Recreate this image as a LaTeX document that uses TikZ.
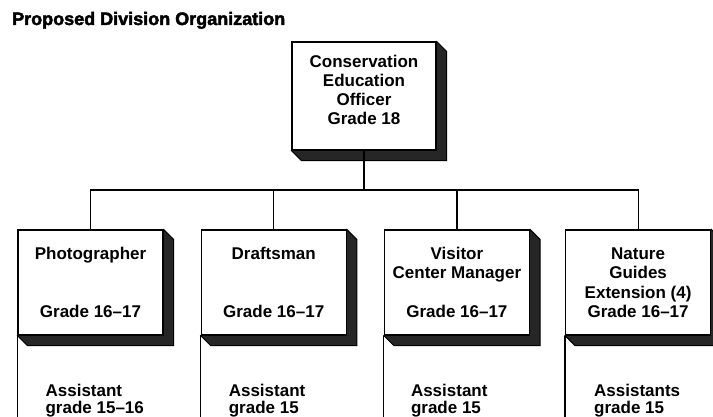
\documentclass[tikz,border=0pt]{standalone}
\usepackage{fontspec}
\setmainfont{Liberation Sans}
\newfontfamily\headfont{Liberation Sans Bold}[FakeBold=2.5]
\usetikzlibrary{positioning}
\usetikzlibrary{backgrounds}
\newcommand{\boxshade}[1]{%
  \filldraw[black!85, draw=black, line width=1pt] (#1.north east) -- ++(10pt,-10pt)
    |- ([shift={(10pt,-10pt)}]#1.south west) -- (#1.south west) -- cycle;}

\begin{document}
\begin{tikzpicture}[x=1pt, y=1pt, node distance=37pt,
  box/.style={draw, fill=white, line width=1.2pt, minimum width=145pt,
    minimum height=105pt, inner sep=0pt, align=center,
    font=\fontsize{17}{19.5}\selectfont\bfseries},
  assist/.style={inner sep=0pt, align=left,
    font=\fontsize{17}{17}\selectfont\bfseries},
  wire/.style={line width=1.2pt}]
  \useasboundingbox (0,0) rectangle (713,417);
  \node[anchor=base west, inner sep=0pt, font=\headfont\fontsize{18}{20}\selectfont]
    (heading) at (12,392) {Proposed Division Organization};
  % officer and the four sections
  \node[box, minimum width=144pt, minimum height=108pt] (ceo) at (364,321) {};
  \node[align=center, font=\fontsize{17}{19}\selectfont\bfseries] (ceotext)
    at ([yshift=6pt]ceo.center) {Conservation\\Education\\Officer\\Grade 18};
  \node[box] (photo) at (90.5,134.5) {Photographer\\[39pt]Grade 16--17};
  \node[box, right=of photo] (draft) {Draftsman\\[39pt]Grade 16--17};
  \node[box, right=of draft] (visitor) {Visitor\\Center Manager\\[19.5pt]Grade 16--17};
  \node[box, right=35pt of visitor] (nature) {Nature\\Guides\\Extension (4)\\Grade 16--17};
  \begin{scope}[on background layer]
    \foreach \b in {ceo,photo,draft,visitor,nature} {\boxshade{\b}}
  \end{scope}
  % connectors
  \coordinate (bus) at (0,227);
  \coordinate (floor) at (0,0);
  \draw[wire] (ceo.south) -- (ceo.south |- bus);
  \draw[wire] (photo.north) |- (bus -| nature.north) -- (nature.north);
  \draw[wire] (draft.north) -- (draft.north |- bus);
  \draw[wire] (visitor.north) -- (visitor.north |- bus);
  \foreach \b in {photo,draft,visitor,nature}
    \draw[wire] (\b.south west) -- (\b.south west |- floor);
  % assistants
  \node[assist, below right=48pt and 28pt of photo.south west] (photoasst) {Assistant\\grade 15--16};
  \node[assist, below right=48pt and 28pt of draft.south west] (draftasst) {Assistant\\grade 15};
  \node[assist, below right=48pt and 27pt of visitor.south west] (visitorasst) {Assistant\\grade 15};
  \node[assist, below right=48pt and 29pt of nature.south west] (natureasst) {Assistants\\grade 15};
\end{tikzpicture}
\end{document}
